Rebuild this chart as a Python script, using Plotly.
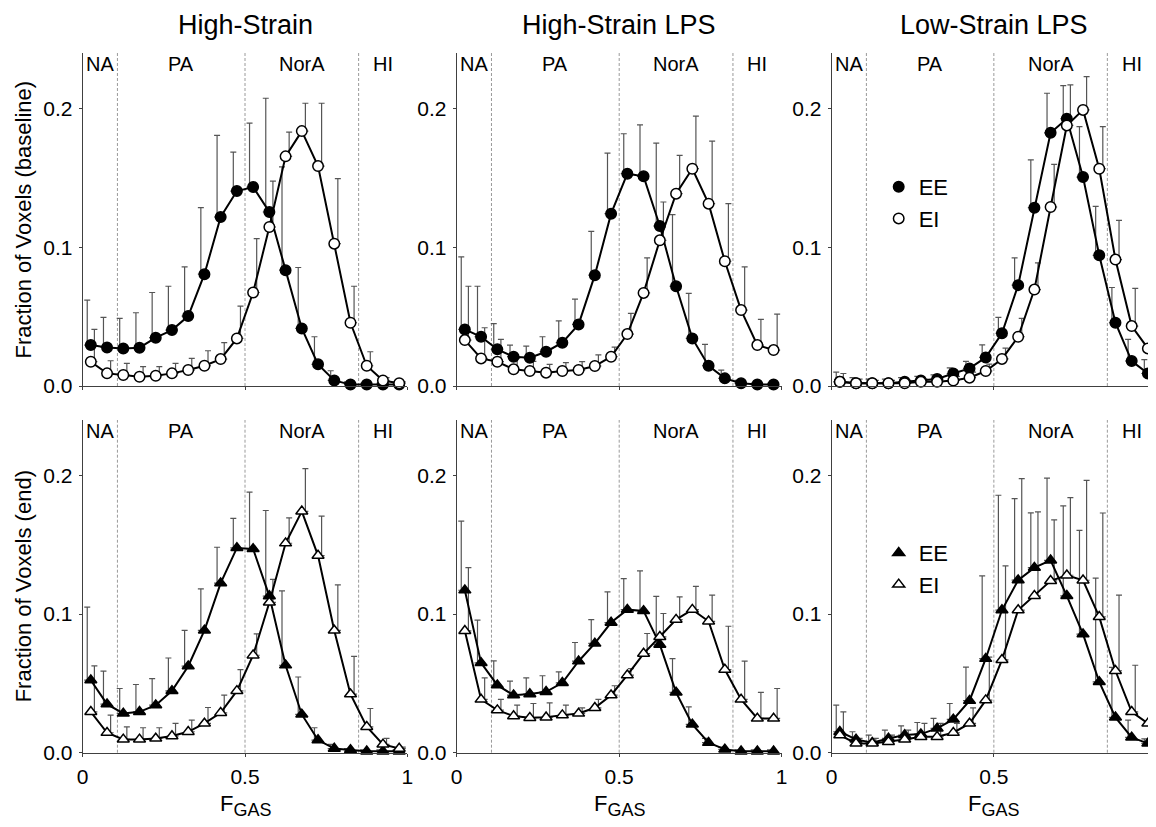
import plotly.graph_objects as go

# ---------------- data ----------------
fgas_bins = [0.025, 0.075, 0.125, 0.175, 0.225, 0.275, 0.325, 0.375, 0.425, 0.475,
             0.525, 0.575, 0.625, 0.675, 0.725, 0.775, 0.825, 0.875, 0.925, 0.975]

region_bounds = [0.107, 0.5, 0.85]
region_names = ["NA", "PA", "NorA", "HI"]
column_titles = ["High-Strain", "High-Strain LPS", "Low-Strain LPS"]
row_titles = ["Fraction of Voxels (baseline)", "Fraction of Voxels (end)"]
series_names = ["EE", "EI"]
x_tick_vals = [0, 0.5, 1]
x_tick_text = ["0", "0.5", "1"]
y_tick_vals = [0, 0.1, 0.2]
y_tick_text = ["0.0", "0.1", "0.2"]

# High-Strain, baseline
hs_base_ee = [0.0295, 0.0278, 0.027, 0.0276, 0.0348, 0.0403, 0.0504, 0.0806, 0.1218, 0.1405,
              0.1434, 0.1254, 0.0835, 0.0415, 0.0156, 0.004, 0.001, 0.001, 0.001, 0.001]
hs_base_ee_err = [0.0324, 0.0216, 0.0217, 0.0252, 0.0326, 0.0316, 0.0354, 0.0479, 0.0588, 0.0281,
                  0.046, 0.082, 0.0745, 0.0439, 0.0199, 0.007, 0.002, 0.001, 0.001, 0.001]
hs_base_ei = [0.0175, 0.0091, 0.0079, 0.0067, 0.0074, 0.0091, 0.0115, 0.0146, 0.0194, 0.0343,
              0.0674, 0.1146, 0.1655, 0.1837, 0.1585, 0.1026, 0.0456, 0.0146, 0.004, 0.002]
hs_base_ei_err = [0.0233, 0.0091, 0.0084, 0.0072, 0.0065, 0.0072, 0.0084, 0.0108, 0.0118, 0.0233,
                  0.0388, 0.0331, 0.0175, 0.0201, 0.0453, 0.0468, 0.0263, 0.0101, 0.002, 0.001]

# High-Strain LPS, baseline
hsl_base_ee = [0.0408, 0.0355, 0.0264, 0.0211, 0.0204, 0.0247, 0.0312, 0.0444, 0.0799, 0.1242,
               0.153, 0.1511, 0.1153, 0.0719, 0.0343, 0.0146, 0.0055, 0.002, 0.001, 0.001]
hsl_base_ee_err = [0.0522, 0.0364, 0.0186, 0.0084, 0.0084, 0.0108, 0.0158, 0.0182, 0.0316, 0.0437,
                   0.0288, 0.0371, 0.0597, 0.0516, 0.0324, 0.0154, 0.006, 0.002, 0.001, 0.001]
hsl_base_ei = [0.0331, 0.0199, 0.0175, 0.012, 0.0108, 0.0096, 0.0108, 0.0115, 0.0144, 0.0211,
               0.0374, 0.0671, 0.105, 0.1386, 0.1566, 0.1314, 0.0899, 0.0547, 0.0295, 0.0259]
hsl_base_ei_err = [0.0388, 0.0221, 0.0161, 0.008, 0.007, 0.006, 0.006, 0.006, 0.008, 0.0069,
                   0.0149, 0.0252, 0.0276, 0.0276, 0.0379, 0.0451, 0.0415, 0.0311, 0.0185, 0.0259]

# Low-Strain LPS, baseline
lsl_base_ee = [0.003, 0.002, 0.002, 0.002, 0.003, 0.004, 0.005, 0.009, 0.0127, 0.0206,
               0.038, 0.0727, 0.1285, 0.1825, 0.1926, 0.1506, 0.0942, 0.0456, 0.018, 0.009]
lsl_base_ee_err = [0.007, 0.004, 0.003, 0.003, 0.003, 0.003, 0.003, 0.004, 0.005, 0.009,
                   0.0114, 0.0196, 0.0345, 0.0285, 0.0239, 0.0364, 0.0353, 0.0254, 0.0156, 0.01]
lsl_base_ei = [0.003, 0.002, 0.002, 0.002, 0.002, 0.003, 0.003, 0.004, 0.006, 0.0108,
               0.0195, 0.0355, 0.0695, 0.129, 0.1878, 0.199, 0.1566, 0.0911, 0.0432, 0.0271]
lsl_base_ei_err = [0.006, 0.003, 0.002, 0.002, 0.002, 0.002, 0.002, 0.003, 0.004, 0.005,
                   0.0078, 0.0132, 0.0192, 0.0307, 0.0292, 0.024, 0.0304, 0.0283, 0.0271, 0.0305]

# High-Strain, end
hs_end_ee = [0.0523, 0.035, 0.0283, 0.0295, 0.0343, 0.0446, 0.0624, 0.0882, 0.1223, 0.1477,
             0.147, 0.113, 0.0631, 0.0276, 0.0091, 0.003, 0.002, 0.001, 0.001, 0.001]
hs_end_ee_err = [0.0527, 0.0238, 0.018, 0.0197, 0.0192, 0.0237, 0.0258, 0.03, 0.0259, 0.0213,
                 0.041, 0.0617, 0.0537, 0.027, 0.0089, 0.003, 0.001, 0.001, 0.001, 0.001]
hs_end_ei = [0.0295, 0.0144, 0.0096, 0.0096, 0.0103, 0.012, 0.0151, 0.0211, 0.0288, 0.0446,
             0.0703, 0.1084, 0.1511, 0.1741, 0.1422, 0.0882, 0.0422, 0.0187, 0.006, 0.003]
hs_end_ei_err = [0.0331, 0.0127, 0.0091, 0.0084, 0.0077, 0.0091, 0.0084, 0.0115, 0.0127, 0.0153,
                 0.0154, 0.0166, 0.0183, 0.0308, 0.0284, 0.0329, 0.0273, 0.0132, 0.0043, 0.001]

# High-Strain LPS, end
hsl_end_ee = [0.1172, 0.0648, 0.0487, 0.0415, 0.0423, 0.0439, 0.0504, 0.066, 0.0788, 0.0939,
              0.1032, 0.1023, 0.078, 0.0435, 0.0204, 0.0072, 0.0024, 0.001, 0.001, 0.001]
hsl_end_ee_err = [0.0499, 0.0308, 0.0176, 0.0101, 0.0117, 0.0116, 0.0079, 0.0135, 0.0172, 0.0221,
                  0.0224, 0.0288, 0.0348, 0.0244, 0.0127, 0.0031, 0.0016, 0.001, 0.001, 0.001]
hsl_end_ei = [0.0879, 0.0384, 0.0307, 0.0264, 0.0252, 0.0255, 0.0271, 0.0283, 0.0324, 0.0415,
              0.0559, 0.0715, 0.0836, 0.096, 0.1032, 0.0948, 0.06, 0.0384, 0.0247, 0.0247]
hsl_end_ei_err = [0.0456, 0.0156, 0.0077, 0.0079, 0.0103, 0.0105, 0.0072, 0.004, 0.006, 0.0068,
                  0.0048, 0.0145, 0.0168, 0.0164, 0.0168, 0.0188, 0.0312, 0.0276, 0.0188, 0.0216]

# Low-Strain LPS, end
lsl_end_ee = [0.0151, 0.0096, 0.0072, 0.0103, 0.0127, 0.0134, 0.0175, 0.024, 0.0375, 0.0678,
              0.1029, 0.1245, 0.1335, 0.1388, 0.1132, 0.0855, 0.0511, 0.0255, 0.011, 0.0067]
lsl_end_ee_err = [0.0192, 0.0055, 0.0055, 0.006, 0.0067, 0.0084, 0.0072, 0.0115, 0.0242, 0.0598,
                  0.0828, 0.0588, 0.0395, 0.0592, 0.0648, 0.0749, 0.0749, 0.036, 0.0125, 0.0033]
lsl_end_ei = [0.0127, 0.0067, 0.0067, 0.0079, 0.0096, 0.0115, 0.0115, 0.0144, 0.0211, 0.0379,
              0.067, 0.1029, 0.1132, 0.124, 0.128, 0.1244, 0.098, 0.0591, 0.0295, 0.0211]
lsl_end_ei_err = [0.0168, 0.0036, 0.0036, 0.0048, 0.0067, 0.0096, 0.0096, 0.0067, 0.0113, 0.0311,
                  0.0677, 0.0948, 0.0605, 0.044, 0.056, 0.072, 0.0749, 0.0545, 0.0336, 0.03]

panels = [
    [(hs_base_ee, hs_base_ee_err, hs_base_ei, hs_base_ei_err),
     (hsl_base_ee, hsl_base_ee_err, hsl_base_ei, hsl_base_ei_err),
     (lsl_base_ee, lsl_base_ee_err, lsl_base_ei, lsl_base_ei_err)],
    [(hs_end_ee, hs_end_ee_err, hs_end_ei, hs_end_ei_err),
     (hsl_end_ee, hsl_end_ee_err, hsl_end_ei, hsl_end_ei_err),
     (lsl_end_ee, lsl_end_ee_err, lsl_end_ei, lsl_end_ei_err)],
]

# ---------------- styling / geometry ----------------
PAGE_MARGIN = 8                 # default body margin of the html page
W, H = 1156 - PAGE_MARGIN, 827 - PAGE_MARGIN
FONT = "Liberation Sans, Arial, Helvetica, sans-serif"
# panel edges in window pixels
col_px = [(82.7, 407.3), (456.7, 781.7), (831.7, 1156.0)]
row_px = [(53.0, 386.0), (420.0, 752.7)]
err_dx = 0.011  # horizontal offset of whiskers (EE left, EI right)
row_symbols = ["circle", "triangle-up"]
row_sizes = [10.5, 10.5]
AXIS_COLOR = "#404040"
ERR_COLOR = "#555555"


def px2x(p):
    return min(max((p - PAGE_MARGIN) / W, 0.0), 1.0)


def px2y(p):
    return min(max(1 - (p - PAGE_MARGIN) / H, 0.0), 1.0)


fig = go.Figure()
layout_axes = {}
shapes = []
annotations = []

for r in range(2):
    for c in range(3):
        k = r * 3 + c + 1
        xn = "x" if k == 1 else f"x{k}"
        yn = "y" if k == 1 else f"y{k}"
        xkey = "xaxis" if k == 1 else f"xaxis{k}"
        ykey = "yaxis" if k == 1 else f"yaxis{k}"
        ee, ee_err, ei, ei_err = panels[r][c]
        sym = row_symbols[r]
        size = row_sizes[r]

        # error bars (upper only), offset left/right of the markers
        for vals, errs, shift in ((ee, ee_err, -err_dx), (ei, ei_err, err_dx)):
            fig.add_trace(go.Scatter(
                x=[b + shift for b in fgas_bins], y=vals, xaxis=xn, yaxis=yn,
                mode="markers", marker=dict(size=1, color="rgba(0,0,0,0)"),
                error_y=dict(type="data", array=errs, arrayminus=[0] * len(errs),
                             symmetric=False, color=ERR_COLOR, thickness=1.2, width=3),
                showlegend=False, hoverinfo="skip", cliponaxis=False))

        # EE (filled) then EI (open)
        fig.add_trace(go.Scatter(
            x=fgas_bins, y=ee, xaxis=xn, yaxis=yn, mode="lines+markers",
            line=dict(color="black", width=2),
            marker=dict(symbol=sym, size=size, color="black",
                        line=dict(color="black", width=1.5)),
            name=series_names[0], showlegend=False, cliponaxis=False))
        fig.add_trace(go.Scatter(
            x=fgas_bins, y=ei, xaxis=xn, yaxis=yn, mode="lines+markers",
            line=dict(color="black", width=2),
            marker=dict(symbol=sym, size=size, color="white",
                        line=dict(color="black", width=1.5)),
            name=series_names[1], showlegend=False, cliponaxis=False))

        x0, x1 = col_px[c]
        y0, y1 = row_px[r]
        layout_axes[xkey] = dict(
            domain=[px2x(x0), px2x(x1)], range=[0, 1], anchor=yn,
            tickvals=x_tick_vals, ticktext=x_tick_text, showticklabels=(r == 1),
            showline=True, linecolor=AXIS_COLOR, linewidth=1, ticks="outside",
            ticklen=3, tickcolor=AXIS_COLOR, showgrid=False, zeroline=False,
            automargin=False, ticklabeloverflow="allow",
            tickfont=dict(size=21, color="black", family=FONT), ticklabelstandoff=2)
        layout_axes[ykey] = dict(
            domain=[px2y(y1), px2y(y0)], range=[0, 0.24], anchor=xn,
            tickvals=y_tick_vals, ticktext=y_tick_text,
            showline=True, linecolor=AXIS_COLOR, linewidth=1, ticks="outside",
            ticklen=3, tickcolor=AXIS_COLOR, showgrid=False, zeroline=False,
            automargin=False, ticklabeloverflow="allow",
            tickfont=dict(size=21, color="black", family=FONT), ticklabelstandoff=2)

        # region boundaries and labels
        for b in region_bounds:
            shapes.append(dict(type="line", xref=xn, yref=f"{yn} domain", x0=b, x1=b,
                               y0=0, y1=1, line=dict(color="#9a9a9a", width=1, dash="3px,2px"),
                               layer="below"))
        edges = [0] + region_bounds + [1]
        for i, name in enumerate(region_names):
            annotations.append(dict(xref=xn, yref=f"{yn} domain",
                                    x=(edges[i] + edges[i + 1]) / 2, y=0.967,
                                    text=name, showarrow=False, xanchor="center",
                                    yanchor="middle",
                                    font=dict(size=20, color="black", family=FONT)))

        if r == 1:
            annotations.append(dict(
                xref="paper", yref="paper", x=px2x((x0 + x1) / 2), y=px2y(805),
                text='F<sub><span style="font-size:18px">GAS</span></sub>',
                showarrow=False, xanchor="center", yanchor="middle",
                font=dict(size=22, color="black", family=FONT)))

# column titles
for c in range(3):
    x0, x1 = col_px[c]
    annotations.append(dict(xref="paper", yref="paper", x=px2x((x0 + x1) / 2), y=px2y(25),
                            text=column_titles[c], showarrow=False, xanchor="center",
                            yanchor="middle", font=dict(size=27, color="black", family=FONT)))
# row titles
for r in range(2):
    y0, y1 = row_px[r]
    annotations.append(dict(xref="paper", yref="paper", x=px2x(23), y=px2y((y0 + y1) / 2),
                            text=row_titles[r], textangle=-90, showarrow=False,
                            xanchor="center", yanchor="middle",
                            font=dict(size=22, color="black", family=FONT)))

# legends (marker-only entries)
legend_specs = [("legend", "x3", "y3", "circle"), ("legend2", "x6", "y6", "triangle-up")]
for lg, xn, yn, sym in legend_specs:
    for name, fill in zip(series_names, ["black", "white"]):
        fig.add_trace(go.Scatter(
            x=[None], y=[None], xaxis=xn, yaxis=yn, mode="markers", name=name,
            marker=dict(symbol=sym, size=10.5, color=fill, line=dict(color="black", width=1.5)),
            legend=lg, legendgroup=f"{lg}_{name}", showlegend=True))

legend_style = dict(bgcolor="rgba(0,0,0,0)", borderwidth=0, xanchor="left", yanchor="top",
                    font=dict(size=22, color="black", family=FONT), itemwidth=30,
                    tracegroupgap=0, traceorder="grouped")

fig.update_layout(
    width=W, height=H, margin=dict(l=0, r=0, t=0, b=0, autoexpand=False),
    paper_bgcolor="white", plot_bgcolor="white",
    font=dict(family=FONT, color="black"),
    shapes=shapes, annotations=annotations,
    legend=dict(x=px2x(878.7), y=px2y(166), **legend_style),
    legend2=dict(x=px2x(878.7), y=px2y(532), **legend_style),
    **layout_axes,
)

fig.write_html("out.html")
